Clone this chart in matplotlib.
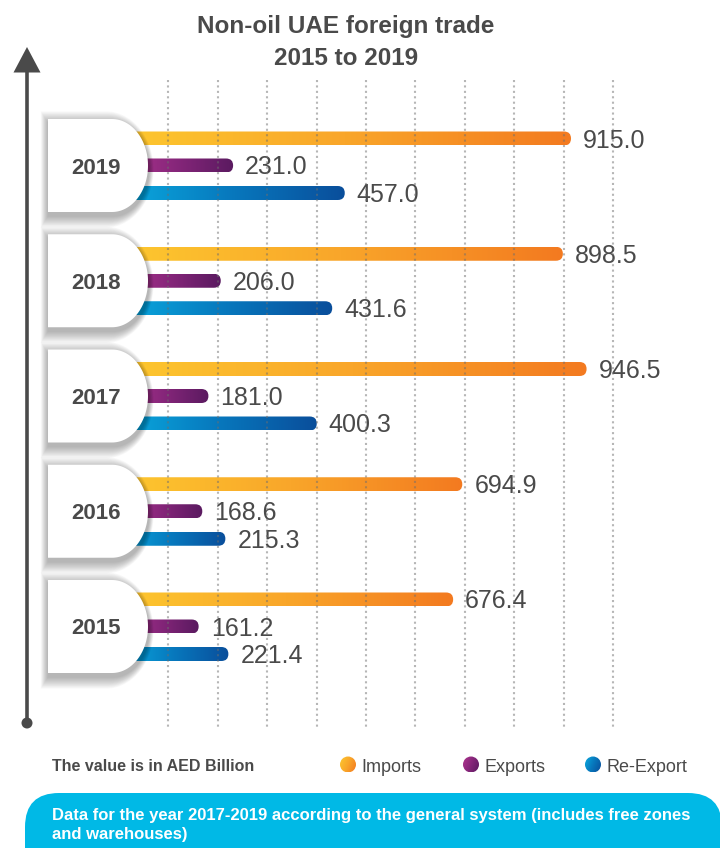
import numpy as np
import matplotlib
matplotlib.use("Agg")
import matplotlib.pyplot as plt
from matplotlib.patches import FancyBboxPatch, Circle, Polygon
from matplotlib.colors import LinearSegmentedColormap

plt.rcParams["font.family"] = ["Liberation Sans", "DejaVu Sans"]

# data (AED billion)
YEARS = ["2019", "2018", "2017", "2016", "2015"]
IMPORTS = [915.0, 898.5, 946.5, 694.9, 676.4]
EXPORTS = [231.0, 206.0, 181.0, 168.6, 161.2]
REEXPORTS = [457.0, 431.6, 400.3, 215.3, 221.4]
SERIES = ["Imports", "Exports", "Re-Export"]
GRID_TICKS = [100, 200, 300, 400, 500, 600, 700, 800, 900, 1000]

TITLE = ["Non-oil UAE foreign trade", "2015 to 2019"]
UNIT_NOTE = "The value is in AED Billion"
FOOTNOTE = ["Data for the year 2017-2019 according to the general system (includes free zones",
            "and warehouses)"]

# look
DARK = "#4a4a4a"
CYAN = "#00b9e6"
GRADS = {"Imports": ["#fdc82f", "#f9a62a", "#f37a20"],
         "Exports": ["#b0358f", "#86267a", "#5a1a60"],
         "Re-Export": ["#0aaadf", "#0778bd", "#0a4e9b"]}
CMAPS = {k: LinearSegmentedColormap.from_list(k, v) for k, v in GRADS.items()}

W, H, DPI = 720, 848, 100
X0_PX, PX_PER_UNIT = 119, 0.494        # value 0 position and scale
ROW0_PX, ROW_PX = 165.5, 115.25        # first group centre and spacing
OFFSETS_PX = [-27, 0, 27.5]
BAR_HALF_PX = 7

fig = plt.figure(figsize=(W / DPI, H / DPI), dpi=DPI)
fig.patch.set_facecolor("white")
bg = fig.add_axes([0, 0, 1, 1], zorder=0)
ax = fig.add_axes([0, 0, 1, 1], zorder=1)
fg = fig.add_axes([0, 0, 1, 1], zorder=2)
for a in (bg, ax, fg):
    a.axis("off")
    a.patch.set_alpha(0)


def py(px):
    """pixel row -> data y of the bar axes"""
    return (px - ROW0_PX) / ROW_PX


# axis arrow
bg.plot([27, 27], [68, 723], color=DARK, lw=2.6, solid_capstyle="butt")
bg.add_patch(Polygon([(27, 47), (13.5, 72.5), (40.5, 72.5)], closed=True, fc=DARK, ec="none"))
bg.add_patch(Circle((27, 723), 5.5, fc=DARK, ec="none"))

# title
for k, line in enumerate(TITLE):
    bg.text(346, 33 + 32 * k, line, ha="center", va="baseline", fontsize=17.5,
            fontweight="bold", color=DARK)

# bars
grad = np.linspace(0, 1, 256).reshape(1, -1)
hh = BAR_HALF_PX / ROW_PX
rx = BAR_HALF_PX / PX_PER_UNIT
for i, year in enumerate(YEARS):
    for j, (name, vals) in enumerate(zip(SERIES, (IMPORTS, EXPORTS, REEXPORTS))):
        v = vals[i]
        yc = i + OFFSETS_PX[j] / ROW_PX
        box = FancyBboxPatch((0, yc - hh), v, 2 * hh,
                             boxstyle=f"round,pad=0,rounding_size={rx}",
                             mutation_aspect=hh / rx, fc="none", ec="none")
        ax.add_patch(box)
        im = ax.imshow(grad, extent=(0, v, yc + hh, yc - hh), cmap=CMAPS[name],
                       aspect="auto", interpolation="bicubic", zorder=2)
        im.set_clip_path(box)
        ax.annotate(f"{v:.1f}", (v, yc), xytext=(12, -9), textcoords="offset pixels",
                    ha="left", va="baseline", fontsize=18, color=DARK)

ax.vlines(GRID_TICKS, py(80), py(727), colors="#6e6e6e", alpha=0.5,
          linestyles=(0, (1, 1.6)), lw=1.5, zorder=5)
ax.set_xlim(-X0_PX / PX_PER_UNIT, (W - X0_PX) / PX_PER_UNIT)
ax.set_ylim(py(H), py(0))


# year cards (D shape with soft shadow)
def d_shape(left, cy, rxp, ryp, flat):
    t = np.linspace(-np.pi / 2, np.pi / 2, 80)
    xs = np.concatenate([[left], left + flat + rxp * np.cos(t), [left]])
    ys = np.concatenate([[cy - ryp], cy + ryp * np.sin(t), [cy + ryp]])
    return np.column_stack([xs, ys])


for i, year in enumerate(YEARS):
    cy = ROW0_PX + i * ROW_PX
    for k in range(1, 14):
        fg.add_patch(Polygon(d_shape(48 - 0.55 * k, cy + 4, 36 + 0.9 * k, 46.5 + 0.9 * k, 65),
                             closed=True, fc="black", ec="none", alpha=0.024))
    fg.add_patch(Polygon(d_shape(48, cy, 36, 46.5, 64), closed=True, fc="white", ec="none"))
    fg.text(96, cy + 8, year, ha="center", va="baseline", fontsize=16,
            fontweight="bold", color=DARK)

# legend row
fg.text(52, 771, UNIT_NOTE, ha="left", va="baseline", fontsize=11.5,
        fontweight="bold", color=DARK)
gx, gy = np.meshgrid(np.linspace(0, 1, 64), np.linspace(0, 1, 64))
diag = (gx * 0.7 + gy * 0.3)
for name, cx in zip(SERIES, [348, 471, 593]):
    r = 8
    c = Circle((cx, 764.5), r, fc="none", ec="none")
    fg.add_patch(c)
    im = fg.imshow(diag, extent=(cx - r, cx + r, 764.5 + r, 764.5 - r), cmap=CMAPS[name],
                   aspect="auto", interpolation="bicubic")
    im.set_clip_path(c)
    fg.text(cx + 13, 772, name, ha="left", va="baseline", fontsize=13, color=DARK)

# footnote banner
fg.add_patch(FancyBboxPatch((25, 793), 697, 120, boxstyle="round,pad=0,rounding_size=34",
                            fc=CYAN, ec="none"))
for k, line in enumerate(FOOTNOTE):
    fg.text(52, 820 + 19 * k, line, ha="left", va="baseline", fontsize=12,
            fontweight="bold", color="white")

for a in (bg, fg):
    a.set_xlim(0, W)
    a.set_ylim(H, 0)

fig.savefig("out.png", dpi=DPI, facecolor="white")
plt.close(fig)
